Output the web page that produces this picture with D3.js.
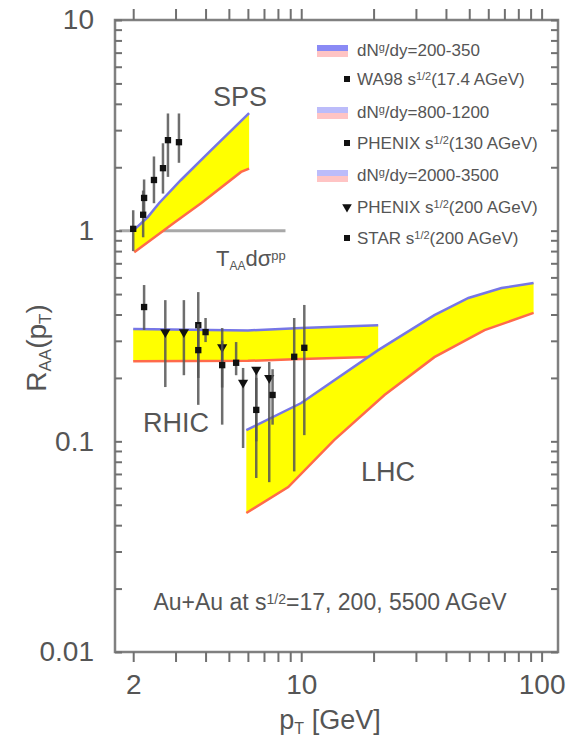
<!DOCTYPE html>
<html>
<head>
<meta charset="utf-8">
<script src="https://cdn.jsdelivr.net/npm/d3@7"></script>
<style>
  html, body { margin: 0; padding: 0; background: #fff; }
  svg { display: block; font-family: "Liberation Sans", Arial, sans-serif; }
</style>
</head>
<body>
<svg id="chart" width="569" height="742"></svg>
<script>
// ---------------- data ----------------
const xMajorTicks = [2, 10, 100];
const xTickValues = [2, 3, 4, 5, 6, 7, 8, 9, 10, 20, 30, 40, 50, 60, 70, 80, 90, 100];
const yMajorTicks = [0.01, 0.1, 1, 10];
const yTickLabels = ["0.01", "0.1", "1", "10"];

// SPS band (dN^g/dy = 200-350)
const spsUpper = [[2.0, 1.0], [2.3, 1.16], [2.56, 1.35], [3.16, 1.74], [4.22, 2.41], [6.07, 3.61]];
const spsLower = [[2.02, 0.79], [2.96, 1.09], [3.83, 1.35], [5.62, 1.90], [6.07, 1.97]];
// RHIC band (dN^g/dy = 800-1200)
const rhicUpper = [[2.0, 0.341], [6.0, 0.336], [10.0, 0.345], [20.9, 0.356]];
const rhicLower = [[2.0, 0.240], [6.0, 0.241], [10.0, 0.246], [20.9, 0.252]];
// LHC band (dN^g/dy = 2000-3500)
const lhcUpper = [[5.91, 0.113], [10.0, 0.152], [20.9, 0.271], [35.8, 0.397], [49.6, 0.479], [68.1, 0.534], [92.6, 0.564]];
const lhcLower = [[5.91, 0.0457], [8.83, 0.0607], [13.7, 0.1014], [22.2, 0.166], [35.8, 0.251], [57.9, 0.337], [92.6, 0.407]];

// reference line T_AA dσ at R = 1
const refLine = [[1.75, 1], [8.6, 1]];

// WA98 17.4 AGeV: [pT, R, low, high]
const wa98 = [[2.0, 1.02, 0.80, 1.25], [2.2, 1.19, 0.93, 1.55], [2.22, 1.43, 1.15, 1.75], [2.44, 1.74, 1.35, 2.25],
              [2.66, 1.98, 1.5, 2.6], [2.79, 2.69, 1.8, 3.6], [3.1, 2.63, 2.1, 3.6]];
// PHENIX 130 AGeV
const phenix130 = [[2.22, 0.434, 0.338, 0.552], [3.73, 0.356, 0.149, 0.511], [4.0, 0.33, 0.296, 0.385]];
// PHENIX 200 AGeV
const phenix200 = [[2.72, 0.33, 0.181, 0.468], [3.25, 0.33, 0.206, 0.468], [4.69, 0.28, 0.12, 0.345],
                   [5.73, 0.19, 0.093, 0.223], [6.5, 0.219, 0.067, 0.223], [7.36, 0.20, 0.064, 0.238]];
// STAR 200 AGeV
const star200 = [[3.73, 0.271, 0.2, 0.36], [4.69, 0.23, 0.18, 0.3], [5.36, 0.236, 0.206, 0.296],
                 [6.5, 0.141, 0.1, 0.2], [7.6, 0.166, 0.12, 0.22], [9.35, 0.252, 0.072, 0.385], [10.3, 0.278, 0.107, 0.444]];

const legendBands = ["200-350", "800-1200", "2000-3500"];

// ---------------- drawing ----------------
const svg = d3.select("#chart");
const L = 115, R = 558, T = 20, B = 652;
const x = d3.scaleLog().domain([1.68, 117]).range([L, R]);
const y = d3.scaleLog().domain([0.01, 10]).range([B, T]);

const blue = "#7676e6", red = "#ff6a4a", yellow = "#ffff00";
const grey = "#555";

const line = d3.line().x(d => x(d[0])).y(d => y(d[1]));

function band(upper, lower) {
  const poly = upper.concat(lower.slice().reverse());
  svg.append("path").attr("d", line(poly) + "Z").attr("fill", yellow).attr("stroke", "none");
  svg.append("path").attr("d", line(upper)).attr("fill", "none").attr("stroke", blue).attr("stroke-width", 2.5);
  svg.append("path").attr("d", line(lower)).attr("fill", "none").attr("stroke", red).attr("stroke-width", 2.5);
}

// reference line
svg.append("path").attr("d", line(refLine)).attr("stroke", "#a8a8a8").attr("stroke-width", 3).attr("fill", "none");

band(spsUpper, spsLower);
band(rhicUpper, rhicLower);
band(lhcUpper, lhcLower);

// data points
function points(data, shape) {
  const g = svg.append("g");
  g.selectAll("line.err").data(data).join("line")
    .attr("x1", d => x(d[0])).attr("x2", d => x(d[0]))
    .attr("y1", d => y(d[2])).attr("y2", d => y(d[3]))
    .attr("stroke", "#555").attr("stroke-width", 2.5).attr("opacity", 0.85);
  const sym = d3.symbol().type(shape === "tri" ? d3.symbolTriangle : d3.symbolSquare).size(shape === "tri" ? 45 : 40);
  g.selectAll("path.pt").data(data).join("path")
    .attr("d", sym)
    .attr("transform", d => `translate(${x(d[0])},${y(d[1])})` + (shape === "tri" ? " rotate(180)" : ""))
    .attr("fill", "#111");
}
points(wa98, "sq");
points(phenix130, "sq");
points(phenix200, "tri");
points(star200, "sq");

// frame
svg.append("rect").attr("x", L).attr("y", T).attr("width", R - L).attr("height", B - T)
  .attr("fill", "none").attr("stroke", "#808080").attr("stroke-width", 2.5);

// axes
const fmtX = d => xMajorTicks.includes(d) ? String(d) : "";
const xb = svg.append("g").attr("transform", `translate(0,${B})`)
  .call(d3.axisBottom(x).tickValues(xTickValues).tickFormat(fmtX).tickSize(10).tickPadding(12));
const xt = svg.append("g").attr("transform", `translate(0,${T})`)
  .call(d3.axisTop(x).tickValues(xTickValues).tickFormat("").tickSize(11));

const yTicksAll = [];
for (let e = -2; e < 1; e++) for (let k = 1; k < 10; k++) yTicksAll.push(k * Math.pow(10, e));
yTicksAll.push(10);
const fmtY = d => { const i = yMajorTicks.findIndex(v => Math.abs(v - d) / v < 1e-6); return i >= 0 ? yTickLabels[i] : ""; };
const yl = svg.append("g").attr("transform", `translate(${L},0)`)
  .call(d3.axisLeft(y).tickValues(yTicksAll).tickFormat(fmtY).tickSize(-7).tickPadding(21));
const yr = svg.append("g").attr("transform", `translate(${R},0)`)
  .call(d3.axisRight(y).tickValues(yTicksAll).tickFormat("").tickSize(-7));

[xb, xt, yl, yr].forEach(g => {
  g.select(".domain").remove();
  g.selectAll(".tick line").attr("stroke", "#707070").attr("stroke-width", 2);
  g.selectAll(".tick text").attr("fill", grey).style("font-size", "28px").style("font-family", "Liberation Sans, Arial, sans-serif");
});

// axis titles
const xt1 = svg.append("text").attr("x", 330).attr("y", 729).attr("text-anchor", "middle")
  .attr("fill", grey).style("font-size", "27px");
xt1.append("tspan").text("p");
xt1.append("tspan").attr("baseline-shift", "-30%").style("font-size", "16px").text("T");
xt1.append("tspan").text(" [GeV]");

const yt1 = svg.append("text").attr("transform", "translate(46,348) rotate(-90)").attr("text-anchor", "middle")
  .attr("fill", grey).style("font-size", "28px");
yt1.append("tspan").text("R");
yt1.append("tspan").attr("baseline-shift", "-30%").style("font-size", "17px").text("AA");
yt1.append("tspan").text("(p");
yt1.append("tspan").attr("baseline-shift", "-30%").style("font-size", "17px").text("T");
yt1.append("tspan").text(")");

// region labels
svg.append("text").attr("x", 240).attr("y", 106).attr("text-anchor", "middle").attr("fill", grey)
  .style("font-size", "27px").text("SPS");
svg.append("text").attr("x", 176).attr("y", 432).attr("text-anchor", "middle").attr("fill", grey)
  .style("font-size", "27px").text("RHIC");
svg.append("text").attr("x", 388).attr("y", 481).attr("text-anchor", "middle").attr("fill", grey)
  .style("font-size", "27px").text("LHC");

const tl = svg.append("text").attr("x", 216).attr("y", 266).attr("fill", grey).style("font-size", "22px");
tl.append("tspan").text("T");
tl.append("tspan").attr("baseline-shift", "-30%").style("font-size", "12px").text("AA");
tl.append("tspan").text("dσ");
tl.append("tspan").attr("baseline-shift", "45%").style("font-size", "13px").text("pp");

// bottom annotation
const ann = svg.append("text").attr("x", 330).attr("y", 610).attr("text-anchor", "middle").attr("fill", grey).style("font-size", "23px");
ann.append("tspan").text("Au+Au at s");
ann.append("tspan").attr("baseline-shift", "45%").style("font-size", "14px").text("1/2");
ann.append("tspan").text("=17, 200, 5500 AGeV");

// legend
const legRows = [
  {type: "band", label: legendBands[0], y: 50},
  {type: "sq", name: "WA98", e: "17.4", y: 79},
  {type: "band", label: legendBands[1], y: 112},
  {type: "sq", name: "PHENIX", e: "130", y: 143},
  {type: "band", label: legendBands[2], y: 175},
  {type: "tri", name: "PHENIX", e: "200", y: 207},
  {type: "sq", name: "STAR", e: "200", y: 238}
];
const lg = svg.append("g").style("font-size", "17px");
legRows.forEach((r, i) => {
  if (r.type === "band") {
    lg.append("rect").attr("x", 317).attr("y", r.y - 5).attr("width", 31).attr("height", 6)
      .attr("fill", i === 0 ? "#8a8af5" : "#bcbcfa");
    lg.append("rect").attr("x", 317).attr("y", r.y + 1).attr("width", 31).attr("height", 6)
      .attr("fill", "#ffc4c4");
    const t = lg.append("text").attr("x", 357).attr("y", r.y + 6).attr("fill", grey);
    t.append("tspan").text("dN");
    t.append("tspan").attr("baseline-shift", "45%").style("font-size", "11px").text("g");
    t.append("tspan").text("/dy=" + r.label);
  } else {
    const sym = d3.symbol().type(r.type === "tri" ? d3.symbolTriangle : d3.symbolSquare).size(r.type === "tri" ? 40 : 36);
    lg.append("path").attr("d", sym)
      .attr("transform", `translate(347,${r.y})` + (r.type === "tri" ? " rotate(180)" : "")).attr("fill", "#111");
    const t = lg.append("text").attr("x", 357).attr("y", r.y + 6).attr("fill", grey);
    t.append("tspan").text(r.name + " s");
    t.append("tspan").attr("baseline-shift", "45%").style("font-size", "11px").text("1/2");
    t.append("tspan").text("(" + r.e + " AGeV)");
  }
});
</script>
</body>
</html>
